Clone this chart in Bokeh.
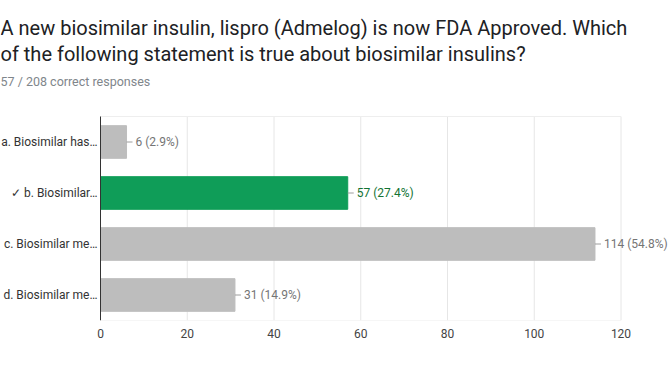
from bokeh.plotting import figure
from bokeh.models import ColumnDataSource, Label, LabelSet, Range1d, FixedTicker
from bokeh.core.properties import value
from bokeh.embed import file_html
from bokeh.resources import INLINE

categories = ["a. Biosimilar has…", "✓ b. Biosimilar…", "c. Biosimilar me…", "d. Biosimilar me…"]
counts = [6, 57, 114, 31]
percents = ["2.9%", "27.4%", "54.8%", "14.9%"]
bar_colors = ["#bdbdbd", "#0f9d58", "#bdbdbd", "#bdbdbd"]
text_colors = ["#757575", "#137333", "#757575", "#757575"]
x_ticks = [0, 20, 40, 60, 80, 100, 120]
title_line1 = "A new biosimilar insulin, lispro (Admelog) is now FDA Approved. Which"
title_line2 = "of the following statement is true about biosimilar insulins?"
subtitle = "57 / 208 correct responses"

FONT = value("Roboto")
W, H = 672, 371

# layout (pixels on the canvas)
frame_left_px = 100         # where the value 0 sits
last_tick_px = 620.5        # where the last tick sits
band_px = 51                # height of one category band
first_center_px = 141.5     # center of the first band
frame_h = 320               # frame spans canvas y 0..320

n = len(categories)
pos = list(range(n))
labels = [f"{c} ({p})" for c, p in zip(counts, percents)]
src = ColumnDataSource(dict(pos=pos, cat=categories, count=counts, label=labels,
                            color=bar_colors, tcolor=text_colors))

xmax = x_ticks[-1]
ppu = (last_tick_px - frame_left_px) / xmax
x_range = Range1d(-frame_left_px / ppu, (W - frame_left_px) / ppu)
y_range = Range1d((frame_h - first_center_px) / band_px, -first_center_px / band_px)

p = figure(width=W, height=H, output_backend="svg", toolbar_location=None,
           x_range=x_range, y_range=y_range,
           min_border_left=0, min_border_right=0,
           min_border_top=0, min_border_bottom=H - frame_h)
p.yaxis.visible = False
p.xgrid.grid_line_color = None
p.ygrid.grid_line_color = None
p.outline_line_color = None

top = pos[0] - 0.5
bottom = pos[-1] + 0.5
# vertical grid lines
grid_ticks = x_ticks[1:]
p.segment(x0=grid_ticks, x1=grid_ticks, y0=[top] * len(grid_ticks), y1=[bottom] * len(grid_ticks),
          line_color="#e6e6e6", line_width=1)
# faint top and bottom border lines
p.segment(x0=[x_ticks[0], x_ticks[0]], x1=[xmax, xmax], y0=[top, bottom], y1=[top, bottom],
          line_color="#eeeeee", line_width=1)

p.hbar(y="pos", right="count", left=0, height=0.64, color="color", source=src)
# baseline axis line
p.segment(x0=[0], x1=[0], y0=[top], y1=[bottom], line_color="#333333", line_width=1)

p.ray(x="count", y="pos", length=6, length_units="screen", angle=0,
      line_color="#9e9e9e", line_width=1, source=src)
p.add_layout(LabelSet(x="count", y="pos", text="label", x_offset=9, source=src,
                      text_align="left", text_baseline="middle", text_font=FONT,
                      text_font_size="12px", text_color="tcolor"))
p.add_layout(LabelSet(x=0, y="pos", text="cat", x_offset=-3, source=src,
                      text_align="right", text_baseline="middle", text_font=FONT,
                      text_font_size="12px", text_color="#333333"))

p.xaxis.ticker = FixedTicker(ticks=x_ticks)
p.xaxis.major_label_text_font = "Roboto"
p.xaxis.major_label_text_font_size = "12px"
p.xaxis.major_label_text_color = "#444444"
p.xaxis.major_tick_line_color = None
p.xaxis.minor_tick_line_color = None
p.xaxis.axis_line_color = None
p.xaxis.major_label_standoff = 2

p.add_layout(Label(x=0, y=frame_h - 27, x_units="screen", y_units="screen", text=title_line1,
                   text_font="Roboto", text_font_size="20px", text_color="#202124",
                   text_baseline="alphabetic"))
p.add_layout(Label(x=0, y=frame_h - 53, x_units="screen", y_units="screen", text=title_line2,
                   text_font="Roboto", text_font_size="20px", text_color="#202124",
                   text_baseline="alphabetic"))
p.add_layout(Label(x=0, y=frame_h - 81, x_units="screen", y_units="screen", text=subtitle,
                   text_font="Roboto", text_font_size="12.5px", text_color="#80868b",
                   text_baseline="alphabetic"))

open("out.html", "w").write(file_html(p, INLINE))
